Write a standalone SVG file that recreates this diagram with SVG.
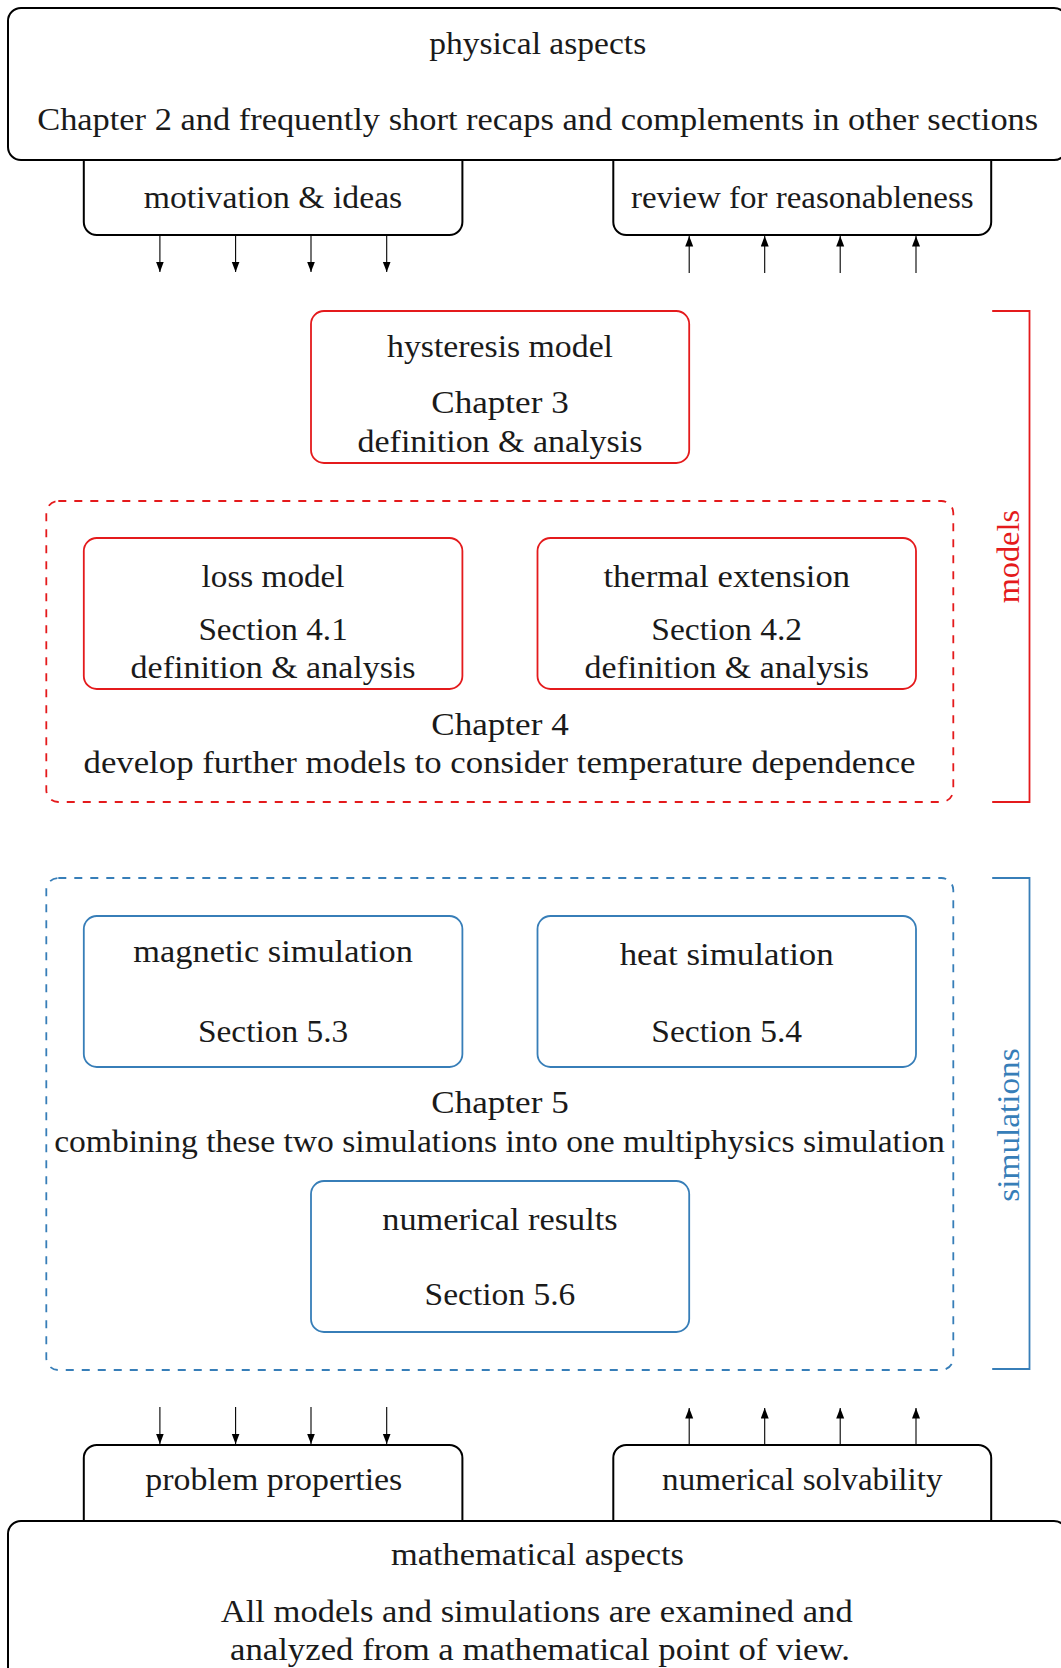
<svg xmlns="http://www.w3.org/2000/svg" width="1061" height="1668" viewBox="0 0 1061 1668">
<style>
text{font-family:"Liberation Serif","Times New Roman",serif;font-size:31.5px;fill:#1a1a1a;text-anchor:middle}
.blk{fill:#fff;stroke:#000;stroke-width:2}
.red{fill:none;stroke:#e41a1c;stroke-width:1.8}
.blu{fill:none;stroke:#377eb8;stroke-width:1.8}
.dash{stroke-dasharray:8 8}
.arr{stroke:#000;stroke-width:1.1;fill:none;marker-end:url(#ah)}
.rt{fill:#e41a1c}
.bt{fill:#377eb8}
</style>
<defs>
<marker id="ah" markerUnits="userSpaceOnUse" markerWidth="12" markerHeight="10" refX="10.5" refY="4" orient="auto"><path d="M0,0 L10.5,4 L0,8 z" fill="#000"/></marker>
</defs>

<g id="motivation">
<path class="blk" d="M83.8,150 V222 A13,13 0 0 0 96.8,235 H449.4 A13,13 0 0 0 462.4,222 V150"/>
<text x="273" y="208" textLength="258.5" lengthAdjust="spacingAndGlyphs">motivation &amp; ideas</text>
</g>
<g id="review">
<path class="blk" d="M613.3,150 V222 A13,13 0 0 0 626.3,235 H978.2 A13,13 0 0 0 991.2,222 V150"/>
<text x="802.3" y="208" textLength="342.7" lengthAdjust="spacingAndGlyphs">review for reasonableness</text>
</g>
<g id="physical">
<rect class="blk" x="8" y="8" width="1059" height="152" rx="13"/>
<text x="537.7" y="54" textLength="217" lengthAdjust="spacingAndGlyphs">physical aspects</text>
<text x="537.7" y="130" textLength="1001" lengthAdjust="spacingAndGlyphs">Chapter 2 and frequently short recaps and complements in other sections</text>
</g>

<g id="hysteresis">
<rect class="red" x="311" y="311" width="378.2" height="152" rx="13"/>
<text x="500" y="357" textLength="226" lengthAdjust="spacingAndGlyphs">hysteresis model</text>
<text x="500" y="413" textLength="137.4" lengthAdjust="spacingAndGlyphs">Chapter 3</text>
<text x="500" y="452" textLength="285" lengthAdjust="spacingAndGlyphs">definition &amp; analysis</text>
</g>

<g id="chapter4">
<rect class="red dash" x="46.3" y="501" width="907" height="301" rx="12"/>
<text x="500" y="735" textLength="137.4" lengthAdjust="spacingAndGlyphs">Chapter 4</text>
<text x="499.5" y="773" textLength="832" lengthAdjust="spacingAndGlyphs">develop further models to consider temperature dependence</text>
</g>
<g id="loss">
<rect class="red" x="83.8" y="538" width="378.6" height="151" rx="13"/>
<text x="273.1" y="587" textLength="143" lengthAdjust="spacingAndGlyphs">loss model</text>
<text x="273.1" y="640" textLength="149.4" lengthAdjust="spacingAndGlyphs">Section 4.1</text>
<text x="273.1" y="678" textLength="285" lengthAdjust="spacingAndGlyphs">definition &amp; analysis</text>
</g>
<g id="thermal">
<rect class="red" x="537.5" y="538" width="378.5" height="151" rx="13"/>
<text x="726.7" y="587" textLength="246.5" lengthAdjust="spacingAndGlyphs">thermal extension</text>
<text x="726.7" y="640" textLength="150.7" lengthAdjust="spacingAndGlyphs">Section 4.2</text>
<text x="726.7" y="678" textLength="284.4" lengthAdjust="spacingAndGlyphs">definition &amp; analysis</text>
</g>
<g id="models">
<path class="red" d="M992.2,311 H1029.5 V802 H992.2"/>
<text class="rt" transform="translate(1019.3,556.7) rotate(-90)" textLength="93.3" lengthAdjust="spacingAndGlyphs">models</text>
</g>

<g id="chapter5">
<rect class="blu dash" x="46.3" y="878" width="907" height="492" rx="12"/>
<text x="500" y="1113" textLength="137.4" lengthAdjust="spacingAndGlyphs">Chapter 5</text>
<text x="499.5" y="1152" textLength="890.7" lengthAdjust="spacingAndGlyphs">combining these two simulations into one multiphysics simulation</text>
</g>
<g id="magnetic">
<rect class="blu" x="83.8" y="916" width="378.6" height="151" rx="13"/>
<text x="273.1" y="962" textLength="279.5" lengthAdjust="spacingAndGlyphs">magnetic simulation</text>
<text x="273.1" y="1042" textLength="150.4" lengthAdjust="spacingAndGlyphs">Section 5.3</text>
</g>
<g id="heat">
<rect class="blu" x="537.5" y="916" width="378.5" height="151" rx="13"/>
<text x="726.7" y="965" textLength="214" lengthAdjust="spacingAndGlyphs">heat simulation</text>
<text x="726.7" y="1042" textLength="150.7" lengthAdjust="spacingAndGlyphs">Section 5.4</text>
</g>
<g id="numerical">
<rect class="blu" x="311" y="1181" width="378.2" height="151" rx="13"/>
<text x="500" y="1230" textLength="235.4" lengthAdjust="spacingAndGlyphs">numerical results</text>
<text x="500" y="1305" textLength="150.8" lengthAdjust="spacingAndGlyphs">Section 5.6</text>
</g>
<g id="simulations">
<path class="blu" d="M992.2,878 H1029.5 V1369 H992.2"/>
<text class="bt" transform="translate(1019.3,1125) rotate(-90)" textLength="153.3" lengthAdjust="spacingAndGlyphs">simulations</text>
</g>

<g id="problem">
<path class="blk" d="M83.8,1530 V1458 A13,13 0 0 1 96.8,1445 H449.4 A13,13 0 0 1 462.4,1458 V1530"/>
<text x="273.8" y="1490" textLength="257" lengthAdjust="spacingAndGlyphs">problem properties</text>
</g>
<g id="solvability">
<path class="blk" d="M613.3,1530 V1458 A13,13 0 0 1 626.3,1445 H978.2 A13,13 0 0 1 991.2,1458 V1530"/>
<text x="802.3" y="1490" textLength="280.4" lengthAdjust="spacingAndGlyphs">numerical solvability</text>
</g>
<g id="mathematical">
<rect class="blk" x="8" y="1521" width="1059" height="200" rx="13"/>
<text x="537.5" y="1565" textLength="293" lengthAdjust="spacingAndGlyphs">mathematical aspects</text>
<text x="536.7" y="1622" textLength="632" lengthAdjust="spacingAndGlyphs">All models and simulations are examined and</text>
<text x="540" y="1660" textLength="620" lengthAdjust="spacingAndGlyphs">analyzed from a mathematical point of view.</text>
</g>

<g id="connectors">
<line class="arr" x1="159.9" y1="236" x2="159.9" y2="272"/>
<line class="arr" x1="235.6" y1="236" x2="235.6" y2="272"/>
<line class="arr" x1="311" y1="236" x2="311" y2="272"/>
<line class="arr" x1="386.7" y1="236" x2="386.7" y2="272"/>
<line class="arr" x1="689.2" y1="273" x2="689.2" y2="236"/>
<line class="arr" x1="764.7" y1="273" x2="764.7" y2="236"/>
<line class="arr" x1="840.2" y1="273" x2="840.2" y2="236"/>
<line class="arr" x1="916" y1="273" x2="916" y2="236"/>
<line class="arr" x1="159.9" y1="1407" x2="159.9" y2="1444"/>
<line class="arr" x1="235.6" y1="1407" x2="235.6" y2="1444"/>
<line class="arr" x1="311" y1="1407" x2="311" y2="1444"/>
<line class="arr" x1="386.7" y1="1407" x2="386.7" y2="1444"/>
<line class="arr" x1="689.2" y1="1444" x2="689.2" y2="1408"/>
<line class="arr" x1="764.7" y1="1444" x2="764.7" y2="1408"/>
<line class="arr" x1="840.2" y1="1444" x2="840.2" y2="1408"/>
<line class="arr" x1="916" y1="1444" x2="916" y2="1408"/>
</g>
</svg>
